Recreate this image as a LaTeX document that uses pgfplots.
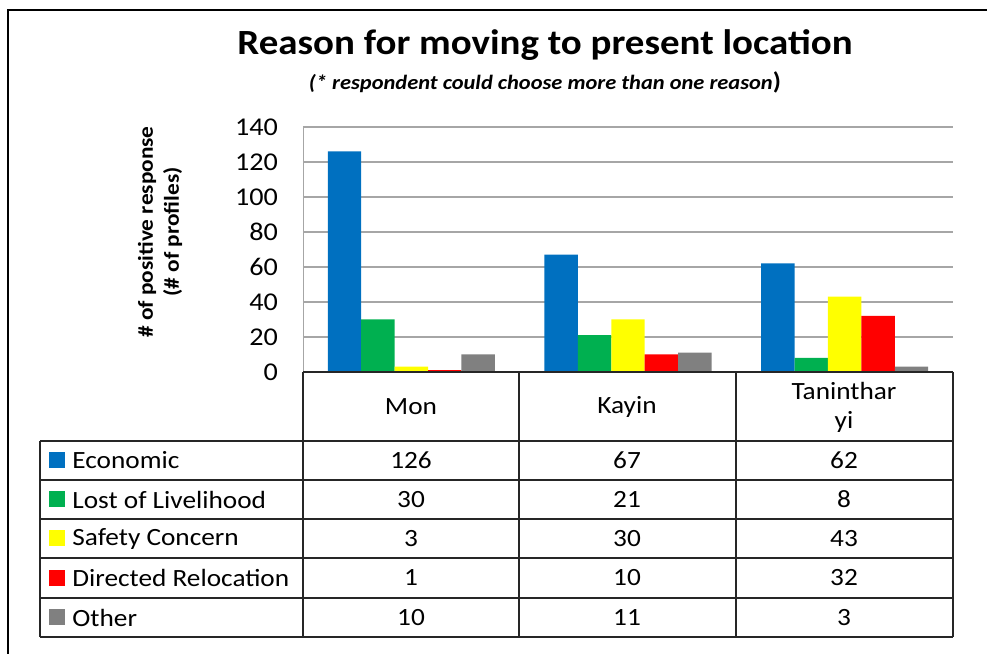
\documentclass[border=0pt]{standalone}
\usepackage{pgfplots}
\pgfplotsset{compat=1.18}
\usepackage{fontspec}
\setmainfont{Carlito}[FakeStretch=1.1]
\definecolor{cEco}{HTML}{0070C0}
\definecolor{cLiv}{HTML}{00B050}
\definecolor{cSaf}{HTML}{FFFF00}
\definecolor{cRel}{HTML}{FF0000}
\definecolor{cOth}{HTML}{808080}
\begin{document}
\begin{tikzpicture}[x=0.5pt,y=0.5pt]
\useasboundingbox (0,0) rectangle (987,654);
% outer frame
\draw[line width=1.2pt] (8,0) -- (8,644) -- (987,644);
% title
\node[font=\fontsize{17.7}{21}\selectfont\bfseries] at (545,609) {Reason for moving to present location};
\node[font=\fontsize{10.2}{12}\selectfont\bfseries\itshape] at (545,572) {(* respondent could choose more than one reason\upshape\fontsize{12}{14}\selectfont)};
% y label
\node[rotate=90, align=center, font=\fontsize{10.6}{13}\selectfont\bfseries] at (160,422) {\# of positive response\\(\# of profiles)};
\begin{axis}[
  at={(151.5pt,141pt)}, anchor=south west,
  scale only axis, width=325pt, height=122.5pt,
  xmin=-0.5, xmax=2.5, ymin=0, ymax=140,
  ytick={0,20,...,140}, xtick=\empty,
  axis x line=none, axis y line*=left,
  y axis line style={draw=gray!70, -},
  ymajorgrids, grid style={gray!70, line width=0.6pt},
  major tick length=0pt,
  /pgf/number format/assume math mode=true,
  yticklabel style={font=\fontsize{12.8}{15}\selectfont, xshift=-9pt},
  ybar, bar width=16.7pt,
  clip=false,
]
\addplot[fill=cEco, draw=none, bar shift=-33.4pt] coordinates {(0,126) (1,67) (2,62)};
\addplot[fill=cLiv, draw=none, bar shift=-16.7pt] coordinates {(0,30) (1,21) (2,8)};
\addplot[fill=cSaf, draw=none, bar shift=0pt] coordinates {(0,3) (1,30) (2,43)};
\addplot[fill=cRel, draw=none, bar shift=16.7pt] coordinates {(0,1) (1,10) (2,32)};
\addplot[fill=cOth, draw=none, bar shift=33.4pt] coordinates {(0,10) (1,11) (2,3)};
\end{axis}
% data table
\begin{scope}[line width=0.9pt, draw=black!85]
\draw (303,282) -- (953,282);
\foreach \xx in {303,519,736,953} \draw (\xx,282) -- (\xx,17);
\draw (40,213) -- (40,17);
\foreach \yy in {213,174,135,96,56,17} \draw (40,\yy) -- (953,\yy);
\end{scope}
\begin{scope}[font=\fontsize{12.4}{14.5}\selectfont]
\node at (411,247) {Mon};
\node at (627,247) {Kayin};
\node[align=center] at (844,247) {Taninthar\\yi};
\foreach \row/\yc/\col/\name/\a/\b/\c in {
  0/193.5/cEco/Economic/126/67/62,
  1/154.5/cLiv/Lost of Livelihood/30/21/8,
  2/115.5/cSaf/Safety Concern/3/30/43,
  3/76/cRel/Directed Relocation/1/10/32,
  4/36.5/cOth/Other/10/11/3}{
  \fill[\col] (49,\yc-8) rectangle (65,\yc+8);
  \node[anchor=west, inner sep=0pt] at (72,\yc) {\name};
  \node at (411,\yc) {\a};
  \node at (627,\yc) {\b};
  \node at (844,\yc) {\c};
}
\end{scope}
\end{tikzpicture}
\end{document}
